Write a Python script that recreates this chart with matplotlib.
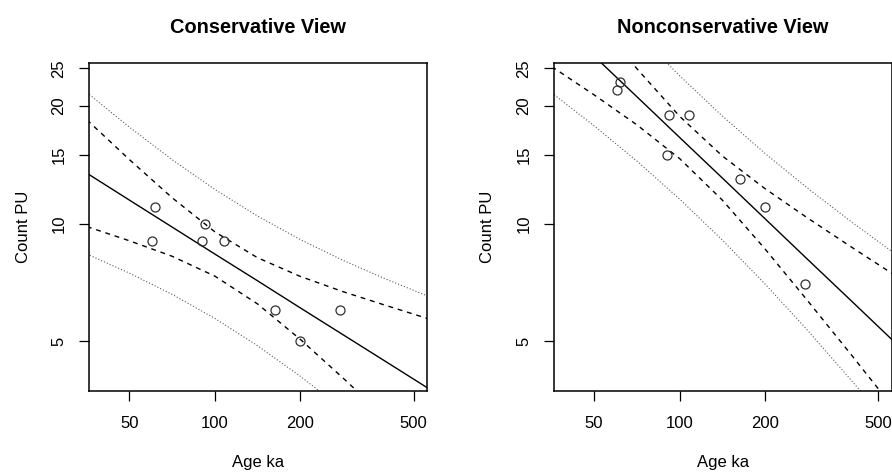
from matplotlib import pyplot as plt
from matplotlib import rcParams as mplParams
import matplotlib.ticker as plticker

mplParams["font.family"] = ["Liberation Sans", "DejaVu Sans"]

# sample points, same ages in both panels
age_ka = [61.5, 60, 92, 90, 108, 163, 200, 275]
count_cons = [11, 9, 10, 9, 9, 6, 5, 6]
count_noncons = [23, 22, 19, 15, 19, 13, 11, 7]

band_age = [35.5, 50.1, 70.8, 100, 141.3, 199.5, 281.8, 398.1, 562.3]

cons_fit = [13.46, 11.48, 9.79, 8.35, 7.13, 6.08, 5.19, 4.43, 3.78]
cons_conf_hi = [18.44, 14.58, 11.64, 9.52, 8.17, 7.32, 6.69, 6.17, 5.70]
cons_conf_lo = [9.82, 9.03, 8.24, 7.33, 6.22, 5.05, 4.02, 3.18, 2.50]
cons_pred_hi = [21.67, 17.66, 14.57, 12.23, 10.45, 9.10, 8.05, 7.21, 6.51]
cons_pred_lo = [8.35, 7.46, 6.58, 5.71, 4.86, 4.06, 3.34, 2.72, 2.19]

noncons_fit = [34.14, 26.85, 21.13, 16.62, 13.08, 10.29, 8.09, 6.37, 5.01]
noncons_conf_hi = [46.1, 33.76, 24.93, 18.83, 14.90, 12.29, 10.33, 8.74, 7.42]
noncons_conf_lo = [25.26, 21.36, 17.90, 14.67, 11.48, 8.61, 6.34, 4.64, 3.38]
noncons_pred_hi = [53.8, 40.53, 30.90, 23.92, 18.86, 15.13, 12.32, 10.15, 8.44]
noncons_pred_lo = [21.64, 17.79, 14.45, 11.55, 9.07, 7.00, 5.32, 3.99, 2.97]

x_ticks = [50, 100, 200, 500]
y_ticks = [5, 10, 15, 20, 25]


def draw_panel(ax, title, counts, fit, conf_hi, conf_lo, pred_hi, pred_lo):
    ax.set_xscale("log")
    ax.set_yscale("log")

    ax.plot(band_age, fit, color="black", linewidth=1.0)
    for band in (conf_hi, conf_lo):
        ax.plot(band_age, band, color="black", linewidth=1.0,
                linestyle=(0, (3.5, 3.5)))
    for band in (pred_hi, pred_lo):
        ax.plot(band_age, band, color="0.35", linewidth=0.8,
                linestyle=(0, (1, 1.8)))
    ax.plot(age_ka, counts, linestyle="None", marker="o", markersize=6.5,
            markerfacecolor="none", markeredgecolor="#303030",
            markeredgewidth=0.9)

    ax.set_xlim(36.1, 557)
    ax.set_ylim(3.72, 25.8)
    ax.xaxis.set_major_locator(plticker.FixedLocator(x_ticks))
    ax.yaxis.set_major_locator(plticker.FixedLocator(y_ticks))
    ax.xaxis.set_major_formatter(plticker.FixedFormatter([str(v) for v in x_ticks]))
    ax.yaxis.set_major_formatter(plticker.FixedFormatter([str(v) for v in y_ticks]))
    ax.xaxis.set_minor_locator(plticker.NullLocator())
    ax.yaxis.set_minor_locator(plticker.NullLocator())

    ax.tick_params(axis="both", direction="out", length=7.2, width=0.9,
                   labelsize=12, color="black")
    ax.tick_params(axis="x", pad=11)
    ax.tick_params(axis="y", pad=9, labelrotation=90)
    for lbl in ax.get_yticklabels():
        lbl.set_verticalalignment("center")

    for sp in ax.spines.values():
        sp.set_linewidth(1.1)

    ax.set_title(title, fontsize=14.4, fontweight="bold", pad=21.8)
    ax.set_xlabel("Age ka", fontsize=12, labelpad=17)
    ax.set_ylabel("Count PU", fontsize=12, labelpad=15)


fig = plt.figure(figsize=(8.92, 4.72), dpi=100)
ax1 = fig.add_axes([89 / 892, 81 / 472, 338 / 892, 328 / 472])
ax2 = fig.add_axes([553.8 / 892, 81 / 472, 338 / 892, 328 / 472])

draw_panel(ax1, "Conservative View", count_cons, cons_fit,
           cons_conf_hi, cons_conf_lo, cons_pred_hi, cons_pred_lo)
draw_panel(ax2, "Nonconservative View", count_noncons, noncons_fit,
           noncons_conf_hi, noncons_conf_lo, noncons_pred_hi, noncons_pred_lo)

fig.savefig("out.png", dpi=100)
